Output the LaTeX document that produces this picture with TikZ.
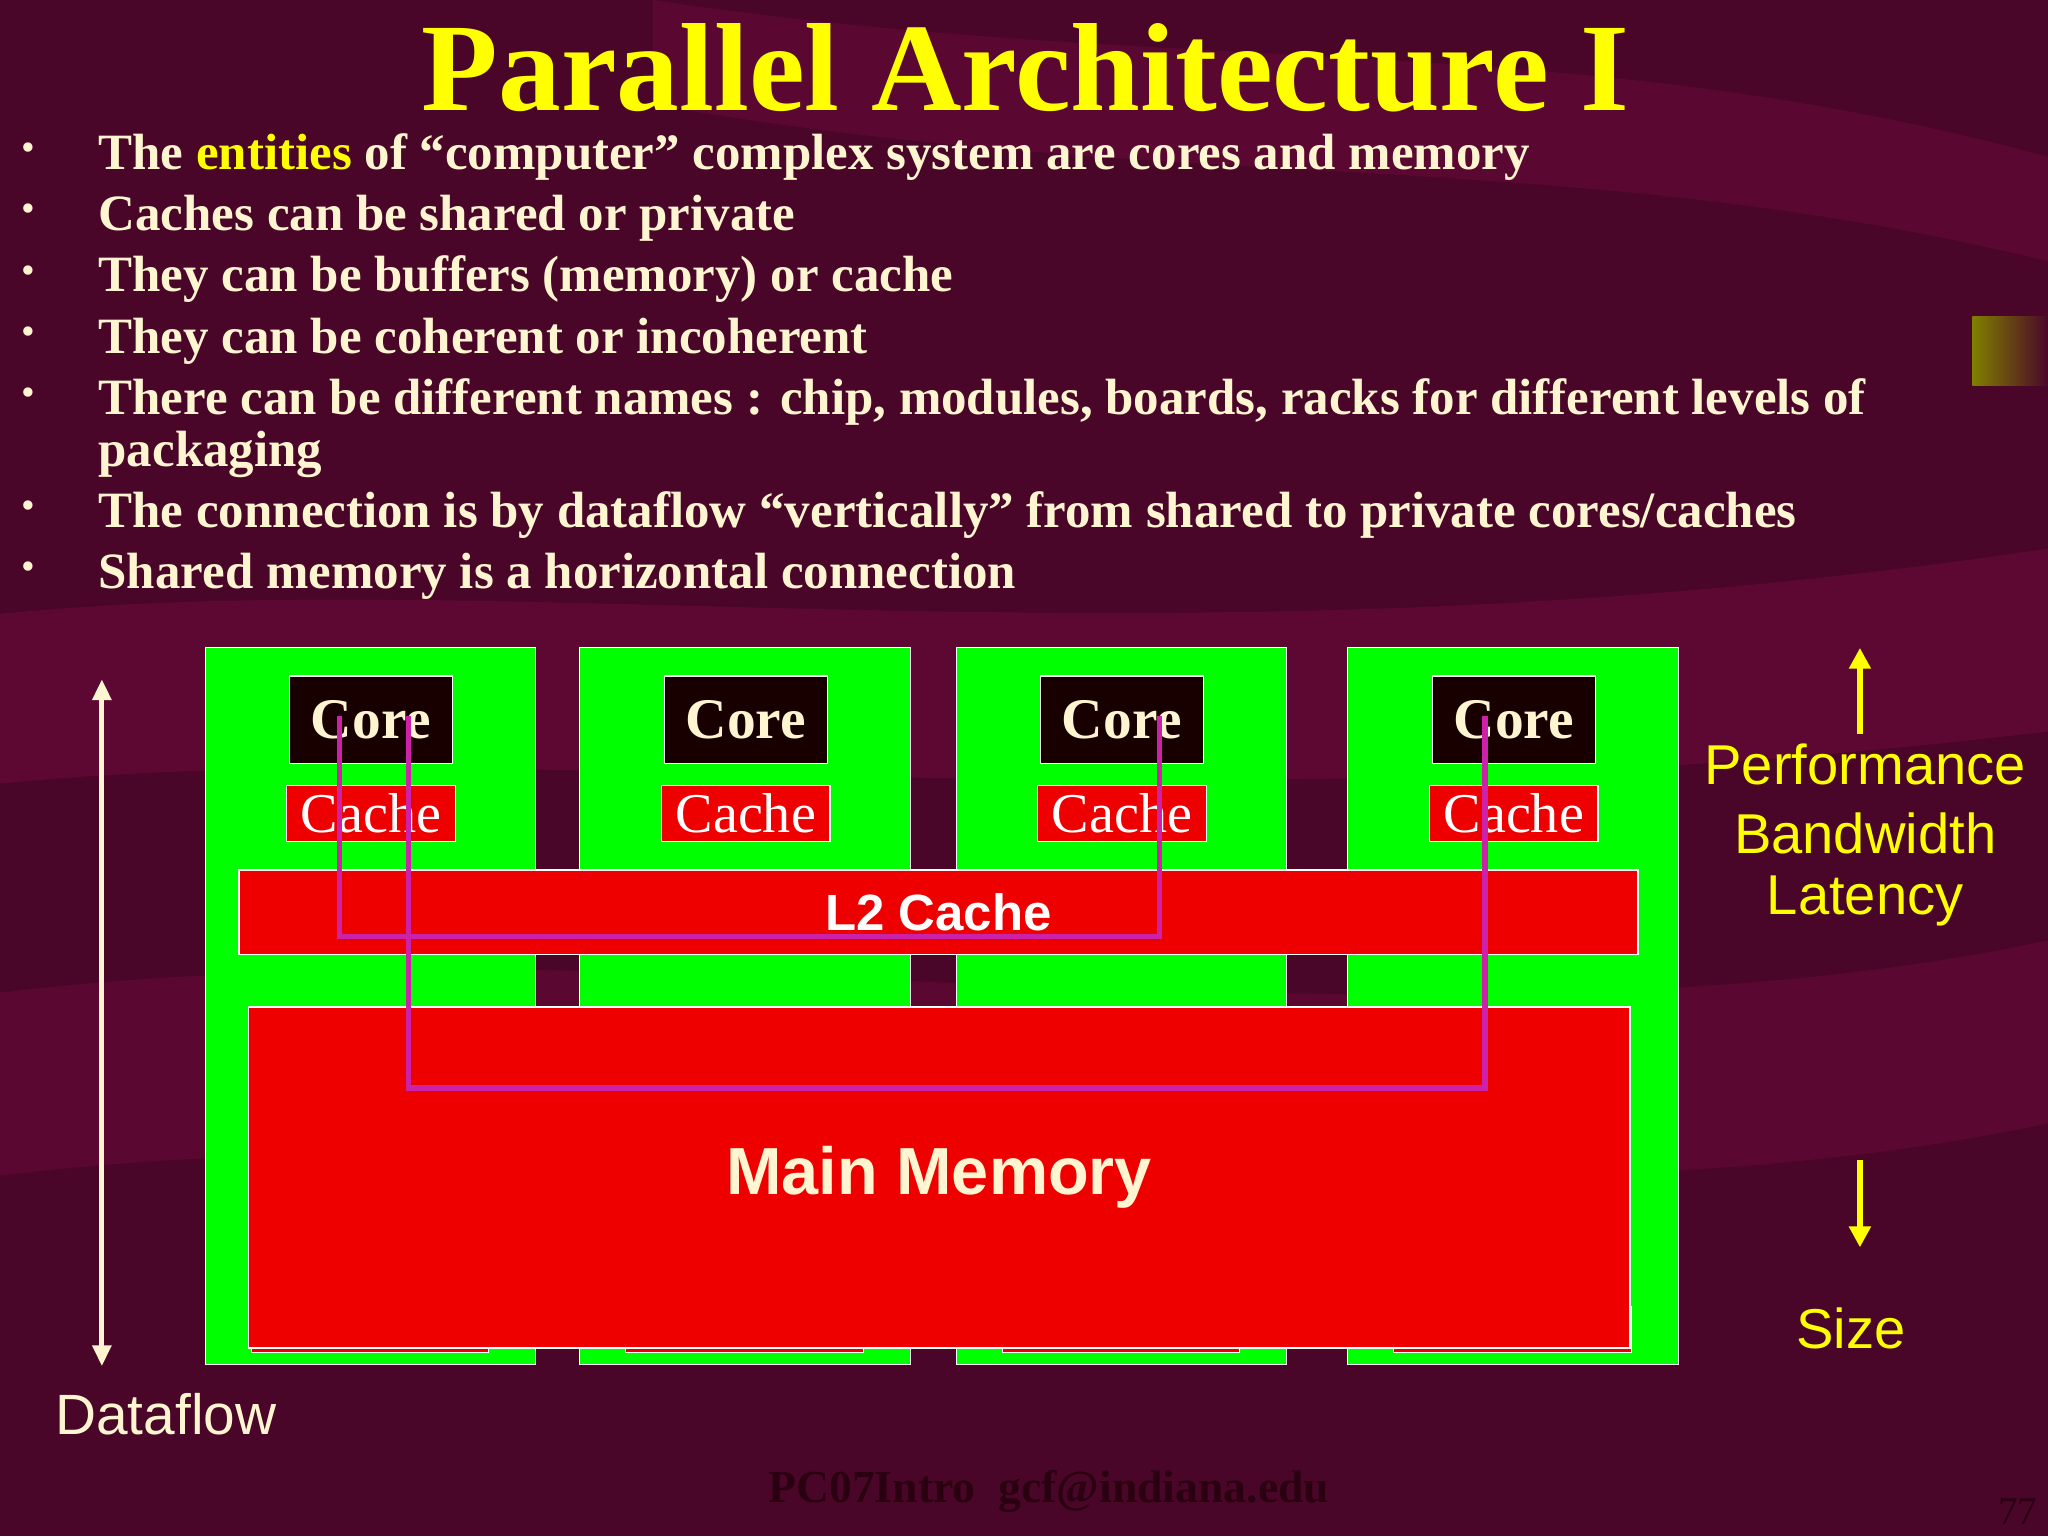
\documentclass[tikz,border=0pt]{standalone}
\usepackage{fontspec}
\setmainfont{Liberation Serif}
\setsansfont{Liberation Sans}
\usetikzlibrary{arrows.meta}
\definecolor{bg}{HTML}{4A0628}
\definecolor{band}{HTML}{6A0A3A}
\definecolor{cream}{HTML}{FFF5D0}
\definecolor{yel}{HTML}{FFFF00}
\definecolor{grn}{HTML}{00FF00}
\definecolor{rd}{HTML}{EE0000}
\definecolor{mag}{HTML}{CC22AA}
\definecolor{foot}{HTML}{2A0010}
\tikzset{
  colbox/.style={fill=grn,draw=white,line width=0.8pt},
  corebox/.style={fill=black!90!red,draw=white,line width=1pt,text=cream,font=\fontsize{44}{44}\selectfont\bfseries},
  cachebox/.style={fill=rd,draw=white,line width=1pt,text=white,font=\fontsize{43}{43}\selectfont},
  bul/.style={anchor=west,text=cream,font=\fontsize{39}{40}\selectfont\bfseries},
  side/.style={text=yel,font=\fontsize{43}{44}\selectfont\sffamily},
  conn/.style={mag,line width=4pt},
}
\begin{document}
\begin{tikzpicture}[x=1pt,y=-1pt]
\useasboundingbox (0,0) rectangle (1568,1176);
\fill[bg] (0,0) rectangle (1568,1176);
% background waves
\fill[band,opacity=0.6] (0,470) .. controls (400,430) and (900,520) .. (1568,420) -- (1568,560) .. controls (900,640) and (400,560) .. (0,600) -- cycle;
\fill[band,opacity=0.5] (0,760) .. controls (500,700) and (1100,820) .. (1568,720) -- (1568,860) .. controls (1100,960) and (500,840) .. (0,900) -- cycle;
\fill[band,opacity=0.5] (500,0) .. controls (900,60) and (1200,20) .. (1568,120) -- (1568,200) .. controls (1200,110) and (900,150) .. (500,80) -- cycle;
\shade[left color=yel!50!black,right color=bg] (1510,242) rectangle (1568,295);
% title
\node[text=yel,font=\fontsize{96}{96}\selectfont\bfseries] (title) at (785,52) {Parallel Architecture I};
% bullets
\foreach \yy/\tt [count=\i] in {120/{The \textcolor{yel}{entities} of “computer” complex system are cores and memory},
 167/{Caches can be shared or private},
 214/{They can be buffers (memory) or cache},
 261/{They can be coherent or incoherent},
 308/{There can be different names : chip, modules, boards, racks for different levels of},
 348/{packaging},
 394/{The connection is by dataflow “vertically” from shared to private cores/caches},
 441/{Shared memory is a horizontal connection}}{
  \node[bul] (b\i) at (72,\yy) {\tt};
}
\foreach \yy [count=\i] in {120,167,214,261,308,394,441}
  \node[text=cream,font=\fontsize{30}{30}\selectfont] (d\i) at (22,\yy-4) {•};
% columns
\foreach \xa/\xb/\cc [count=\i] in {157/410/284,444/697/571,732/985/859,1032/1285/1159}{
  \draw[colbox] (\xa,496) rectangle (\xb,1045);
  \node[corebox,minimum width=125,minimum height=67,inner sep=0] (core\i) at (\cc,551) {Core};
  \node[cachebox,minimum width=129,minimum height=43,inner sep=0] (cache\i) at (\cc,623) {Cache};
  \draw[fill=rd,draw=white] (\cc-92,1000) rectangle (\cc+90,1035);
}
\node[fill=rd,draw=white,line width=1pt,minimum width=1071,minimum height=65,inner sep=0,text=white,font=\fontsize{39}{39}\selectfont\sffamily\bfseries] (l2) at (718.5,698.5) {L2 Cache};
\node[fill=rd,draw=white,line width=1pt,minimum width=1058,minimum height=261,inner sep=0,text=cream,font=\fontsize{51}{51}\selectfont\sffamily\bfseries] (mm) at (719,901.5) {Main Memory};
% connectors
\coordinate (c1a) at (260,548); \coordinate (c3a) at (888,548);
\coordinate (c1b) at (313,548); \coordinate (c4b) at (1137,548);
\draw[conn] (c1a) |- (888,717) -- (c3a);
\draw[conn] (c1b) |- (1137,833) -- (c4b);
% dataflow
\coordinate (dft) at (78,520); \coordinate (dfb) at (78,1046);
\draw[cream,line width=4pt,{Triangle[length=16pt,width=14pt]}-{Triangle[length=16pt,width=14pt]}] (dft) -- (dfb);
\node[text=cream,font=\fontsize{43.5}{44}\selectfont\sffamily] (df) at (127,1083) {Dataflow};
% right labels
\node[side] (perf) at (1428,585) {Performance};
\node[side] (bw) at (1428,638) {Bandwidth};
\node[side] (lat) at (1428,690) {Latency};
\node[side] (size) at (1417,1017) {Size};
\coordinate (ua) at (1424,562); \coordinate (ub) at (1424,496);
\coordinate (da) at (1424,888); \coordinate (db) at (1424,955);
\draw[yel,line width=5pt,-{Triangle[length=16pt,width=16pt]}] (ua) -- (ub);
\draw[yel,line width=5pt,-{Triangle[length=16pt,width=16pt]}] (da) -- (db);
% footer
\node[text=foot,font=\fontsize{35}{35}\selectfont\bfseries] (ft) at (803,1142) {PC07Intro\ \ gcf@indiana.edu};
\node[text=foot,font=\fontsize{30}{30}\selectfont] (pg) at (1545,1157) {77};
\end{tikzpicture}
\end{document}
